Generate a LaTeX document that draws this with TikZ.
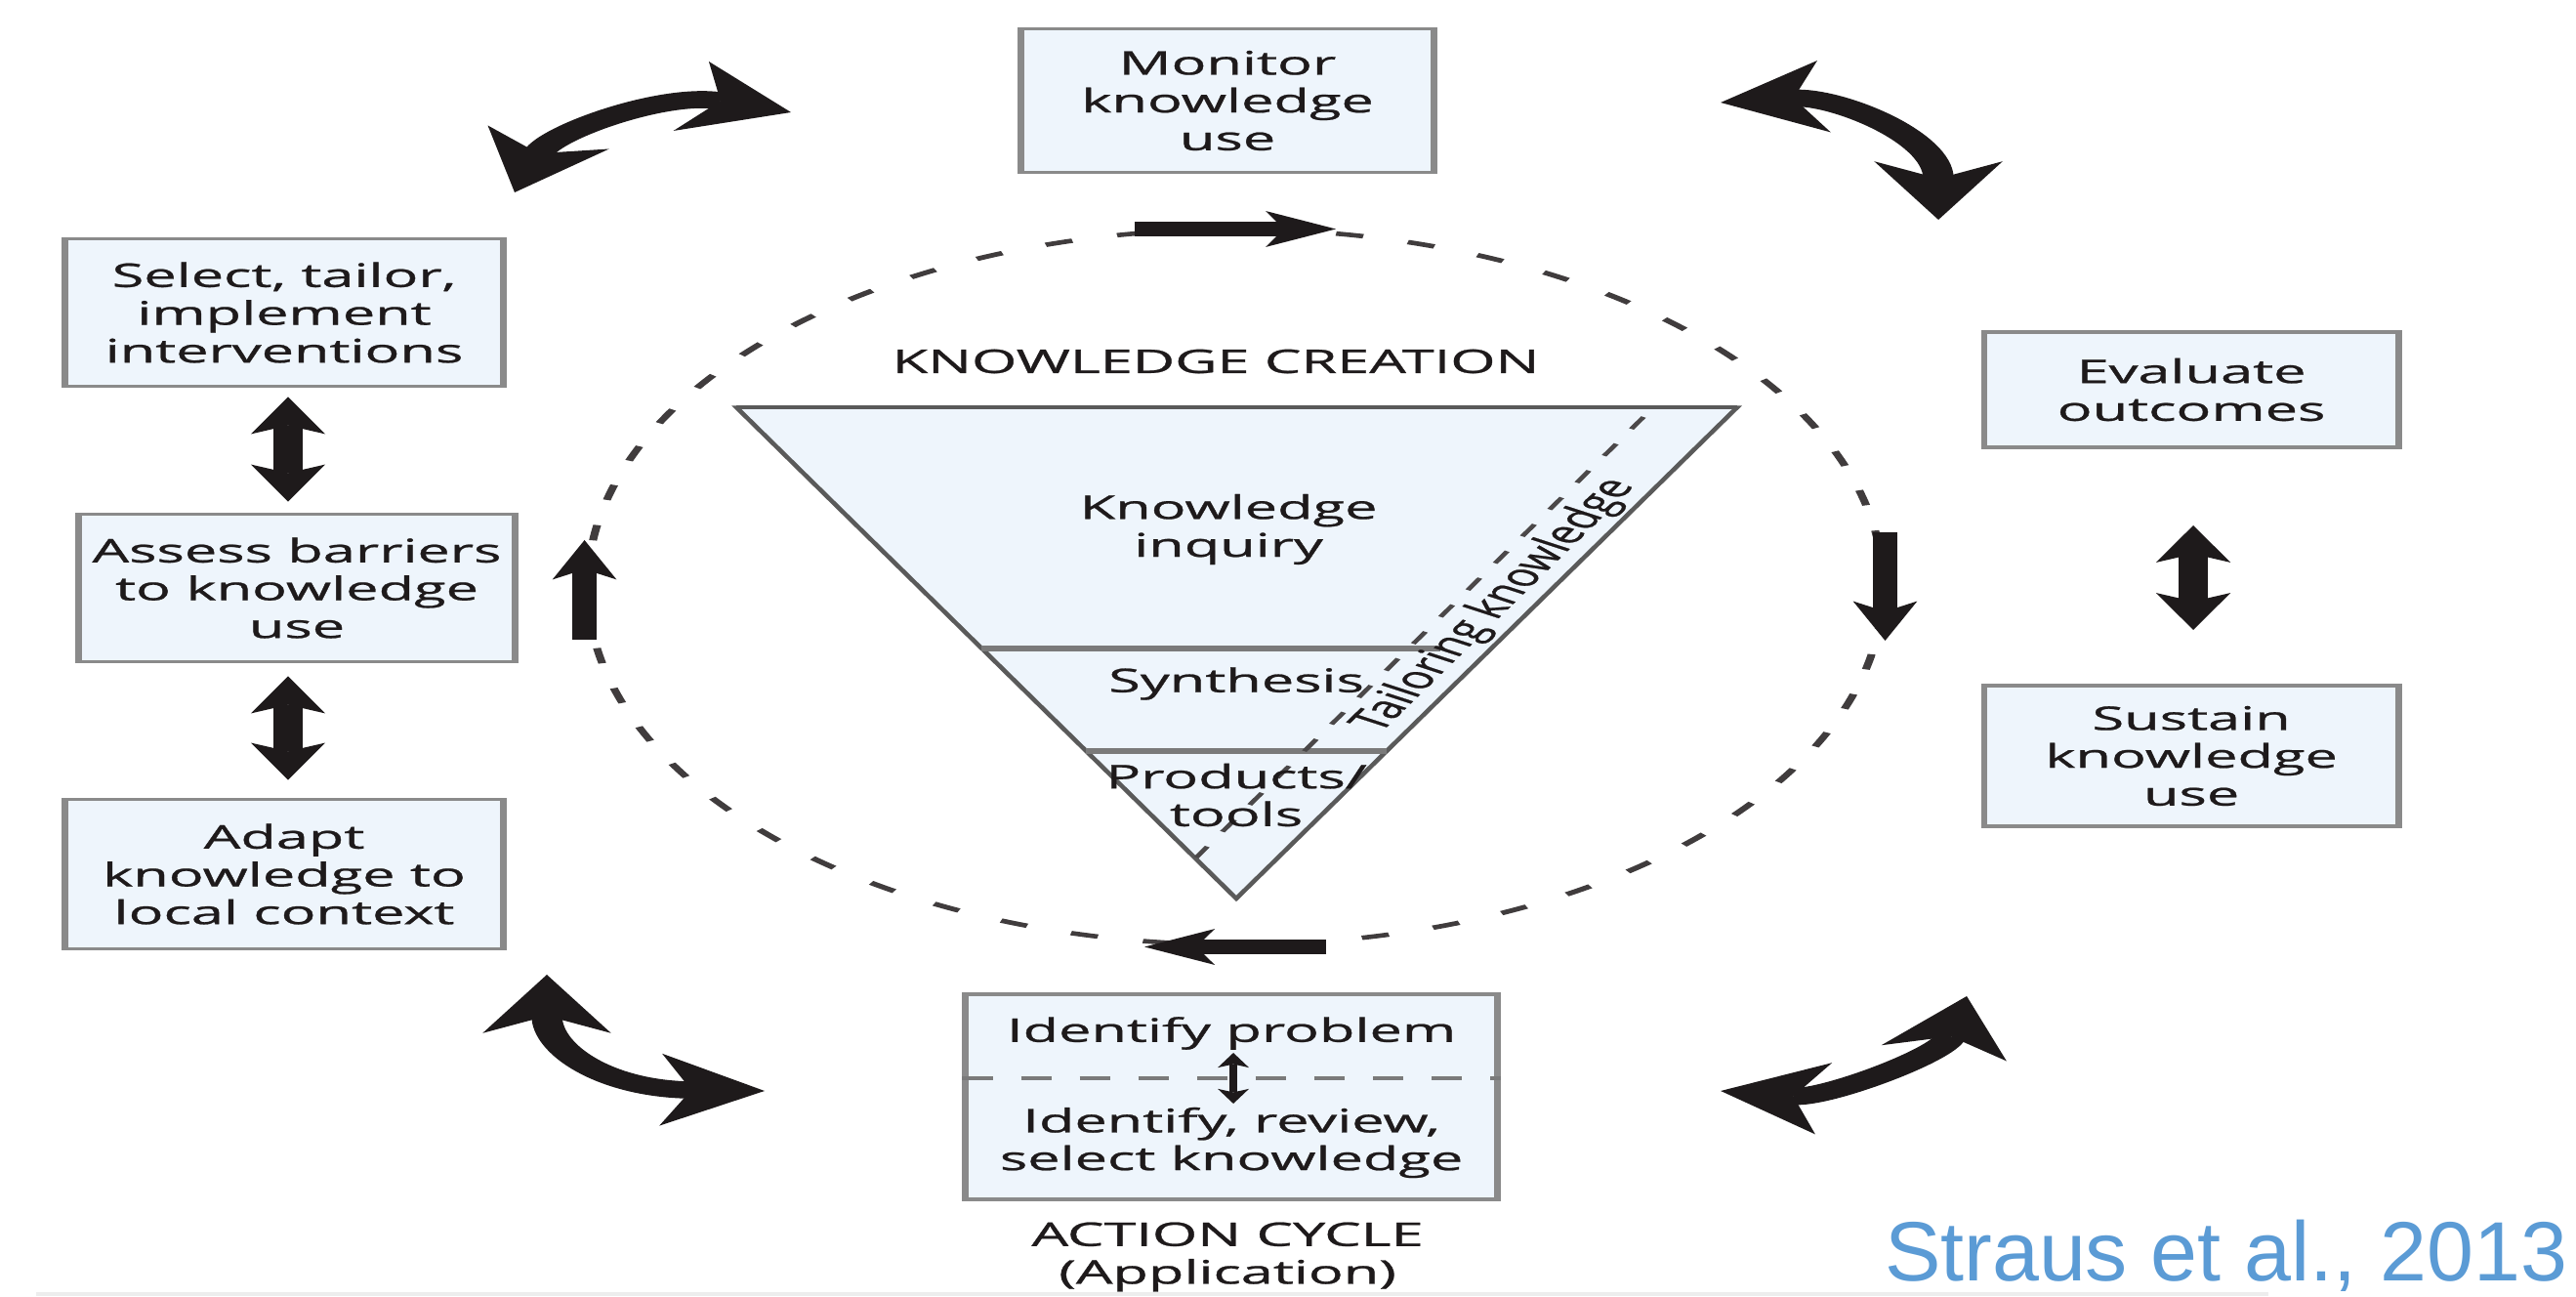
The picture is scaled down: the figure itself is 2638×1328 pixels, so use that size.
\documentclass[tikz,border=0pt]{standalone}
\usepackage{fontspec}
\setmainfont{Open Sans}[FakeBold=0.7]
\newfontfamily\citefont{Liberation Sans}
\usetikzlibrary{arrows.meta,calc,shapes.geometric}

\definecolor{ink}{HTML}{1E1A1B}
\definecolor{boxfill}{HTML}{EEF5FC}
\definecolor{boxline}{HTML}{8A8A8A}
\definecolor{triline}{HTML}{5A5A5A}
\definecolor{divline}{HTML}{7A7A7A}
\definecolor{citeblue}{RGB}{91,155,213}

\newcommand{\boxfont}{\fontsize{9.5}{11}\selectfont}
\newcommand{\tailfont}{\fontsize{9}{10}\selectfont}

\tikzset{
  box/.style={draw=boxline, fill=boxfill, line width=1.1pt, inner sep=0pt,
    text=ink, font=\boxfont, align=center},
  lbl/.style={inner sep=0pt, text=ink, font=\boxfont, align=center},
  swing/.style={draw=ink, line width=5pt,
    {Stealth[length=17pt,width=21pt,inset=5pt,line width=0pt]}-{Stealth[length=17pt,width=21pt,inset=5pt,line width=0pt]}},
  cycarrow/.style={draw=ink, line width=4pt,
    -{Stealth[length=11.5pt,width=10.5pt,inset=3pt,line width=0pt]}},
  boxarrow/.style={draw=ink, line width=4.8pt,
    {Stealth[length=10.8pt,width=12.2pt,inset=2.5pt,line width=0pt]}-{Stealth[length=10.8pt,width=12.2pt,inset=2.5pt,line width=0pt]}},
  minarrow/.style={draw=ink, line width=1.3pt,
    {Stealth[length=4.3pt,width=5.1pt,inset=1pt,line width=0pt]}-{Stealth[length=4.3pt,width=5.1pt,inset=1pt,line width=0pt]}},
  cycdash/.style={draw=ink!85, line width=1.3pt, dash pattern=on 4.5pt off 7.5pt},
  taildash/.style={draw=ink!80, line width=0.9pt, dash pattern=on 4pt off 5pt},
  divdash/.style={draw=divline, line width=1pt, dash pattern=on 5pt off 4.6pt},
}

\begin{document}
\begin{tikzpicture}[x=0.01cm,y=-0.01cm]
\fill[white] (0,0) rectangle (2638,1328);
\useasboundingbox (0,0) rectangle (2638,1328);

% the figure is drawn on a canvas stretched horizontally
\begin{scope}[transform canvas={xscale=1.78}, x=0.0056180cm]

  % knowledge-creation funnel
  \coordinate (t1) at (754,417);
  \coordinate (t2) at (1779,417);
  \coordinate (t3) at (1266,920);
  \filldraw[fill=boxfill, draw=triline, line width=0.9pt] (t1) -- (t2) -- (t3) -- cycle;
  \draw[triline, line width=1.3pt] (t1) -- (t2);
  \coordinate (s1) at (1005,664);
  \coordinate (s2) at (1475,664);
  \coordinate (p1) at (1112,769);
  \coordinate (p2) at (1420,769);
  \draw[divline, line width=1.5pt] (s1) -- (s2);
  \draw[divline, line width=1.5pt] (p1) -- (p2);
  \coordinate (k1) at (1683,427);
  \coordinate (k2) at (1225,878);
  \draw[taildash] (k1) -- (k2);

  \node[lbl] (kc) at (1245,370) {KNOWLEDGE CREATION};
  \node[lbl] (ki) at (1258,542) {Knowledge\\inquiry};
  \node[lbl] (syn) at (1266,700) {Synthesis};
  \node[lbl] (prod) at (1266,814) {Products/\\tools};
  \node[lbl, font=\tailfont, rotate=60] (tk) at (1531,620) {Tailoring knowledge};

  % action cycle
  \node[draw=none, cycdash, ellipse, inner sep=0pt, minimum width=211.96pt,
        minimum height=208.28pt] (cyc) at (1265,601) {};

  \node[box, minimum width=67.62pt, minimum height=41.83pt] (mon) at (1257,103) {Monitor\\knowledge\\use};
  \node[box, minimum width=71.77pt, minimum height=42.96pt] (sel) at (291,320) {Select, tailor,\\implement\\interventions};
  \node[box, minimum width=71.29pt, minimum height=42.96pt] (ass) at (304,602) {Assess barriers\\to knowledge\\use};
  \node[box, minimum width=71.77pt, minimum height=43.53pt] (ada) at (291,895) {Adapt\\knowledge to\\local context};
  \node[box, minimum width=67.78pt, minimum height=33.57pt] (eva) at (2244,399) {Evaluate\\outcomes};
  \node[box, minimum width=67.78pt, minimum height=40.97pt] (sus) at (2244,774) {Sustain\\knowledge\\use};
  \node[box, minimum width=86.96pt, minimum height=59.75pt] (idb) at (1261,1123) {};
  \coordinate (divy) at (1261,1104);
  \draw[divdash] (idb.west |- divy) -- (idb.east |- divy);
  \node[lbl] (idp) at (1261,1058) {Identify problem};
  \node[lbl] (idr) at (1261,1170) {Identify, review,\\select knowledge};
  \draw[minarrow] ($(idb.center)+(2,-45)$) -- ($(idb.center)+(2,7)$);

  \node[lbl] (ac) at (1257,1287) {ACTION CYCLE\\(Application)};

  % arrows along the cycle
  \draw[cycarrow] ($(cyc.north)+(-103,2)$) -- ($(cyc.north)+(103,2)$);
  \draw[cycarrow] ($(cyc.east)+(-2,-56)$) -- ($(cyc.east)+(-2,55)$);
  \draw[cycarrow] ($(cyc.south)+(93,0)$) -- ($(cyc.south)+(-93,0)$);
  \draw[cycarrow] ($(cyc.west)+(1,54)$) -- ($(cyc.west)+(1,-48)$);

  % links between neighbouring steps
  \draw[boxarrow] ($(sel.south)+(4,9)$) -- ($(sel.south |- ass.north)+(4,-11)$);
  \draw[boxarrow] ($(ass.south)+(-9,13)$) -- ($(ada.north)+(4,-18)$);
  \draw[boxarrow] ($(eva.south)+(2,78)$) -- ($(sus.north)+(2,-55)$);

  % curved exchange arrows
  \coordinate (a1) at (527,197);  \coordinate (a2) at (810,115);
  \coordinate (b1) at (1762,105); \coordinate (b2) at (1985,225);
  \coordinate (c1) at (560,998);  \coordinate (c2) at (783,1117);
  \coordinate (d1) at (1762,1117); \coordinate (d2) at (2014,1020);
  \draw[swing] (a1) .. controls (565,135) and (680,94) .. (a2);
  \draw[swing] (b1) .. controls (1880,98) and (1985,140) .. (b2);
  \draw[swing] (c1) .. controls (560,1075) and (620,1115) .. (c2);
  \draw[swing] (d1) .. controls (1870,1125) and (1990,1080) .. (d2);
\end{scope}

\coordinate (r1) at (37,1325);
\coordinate (r2) at (2323,1325);
\draw[black!7, line width=1.2pt] (r1) -- (r2);
\node[anchor=base east, inner sep=0pt, text=citeblue,
      font=\citefont\fontsize{24.5}{28}\selectfont] (cite) at (2630,1311) {Straus et al., 2013};
\end{tikzpicture}
\end{document}
